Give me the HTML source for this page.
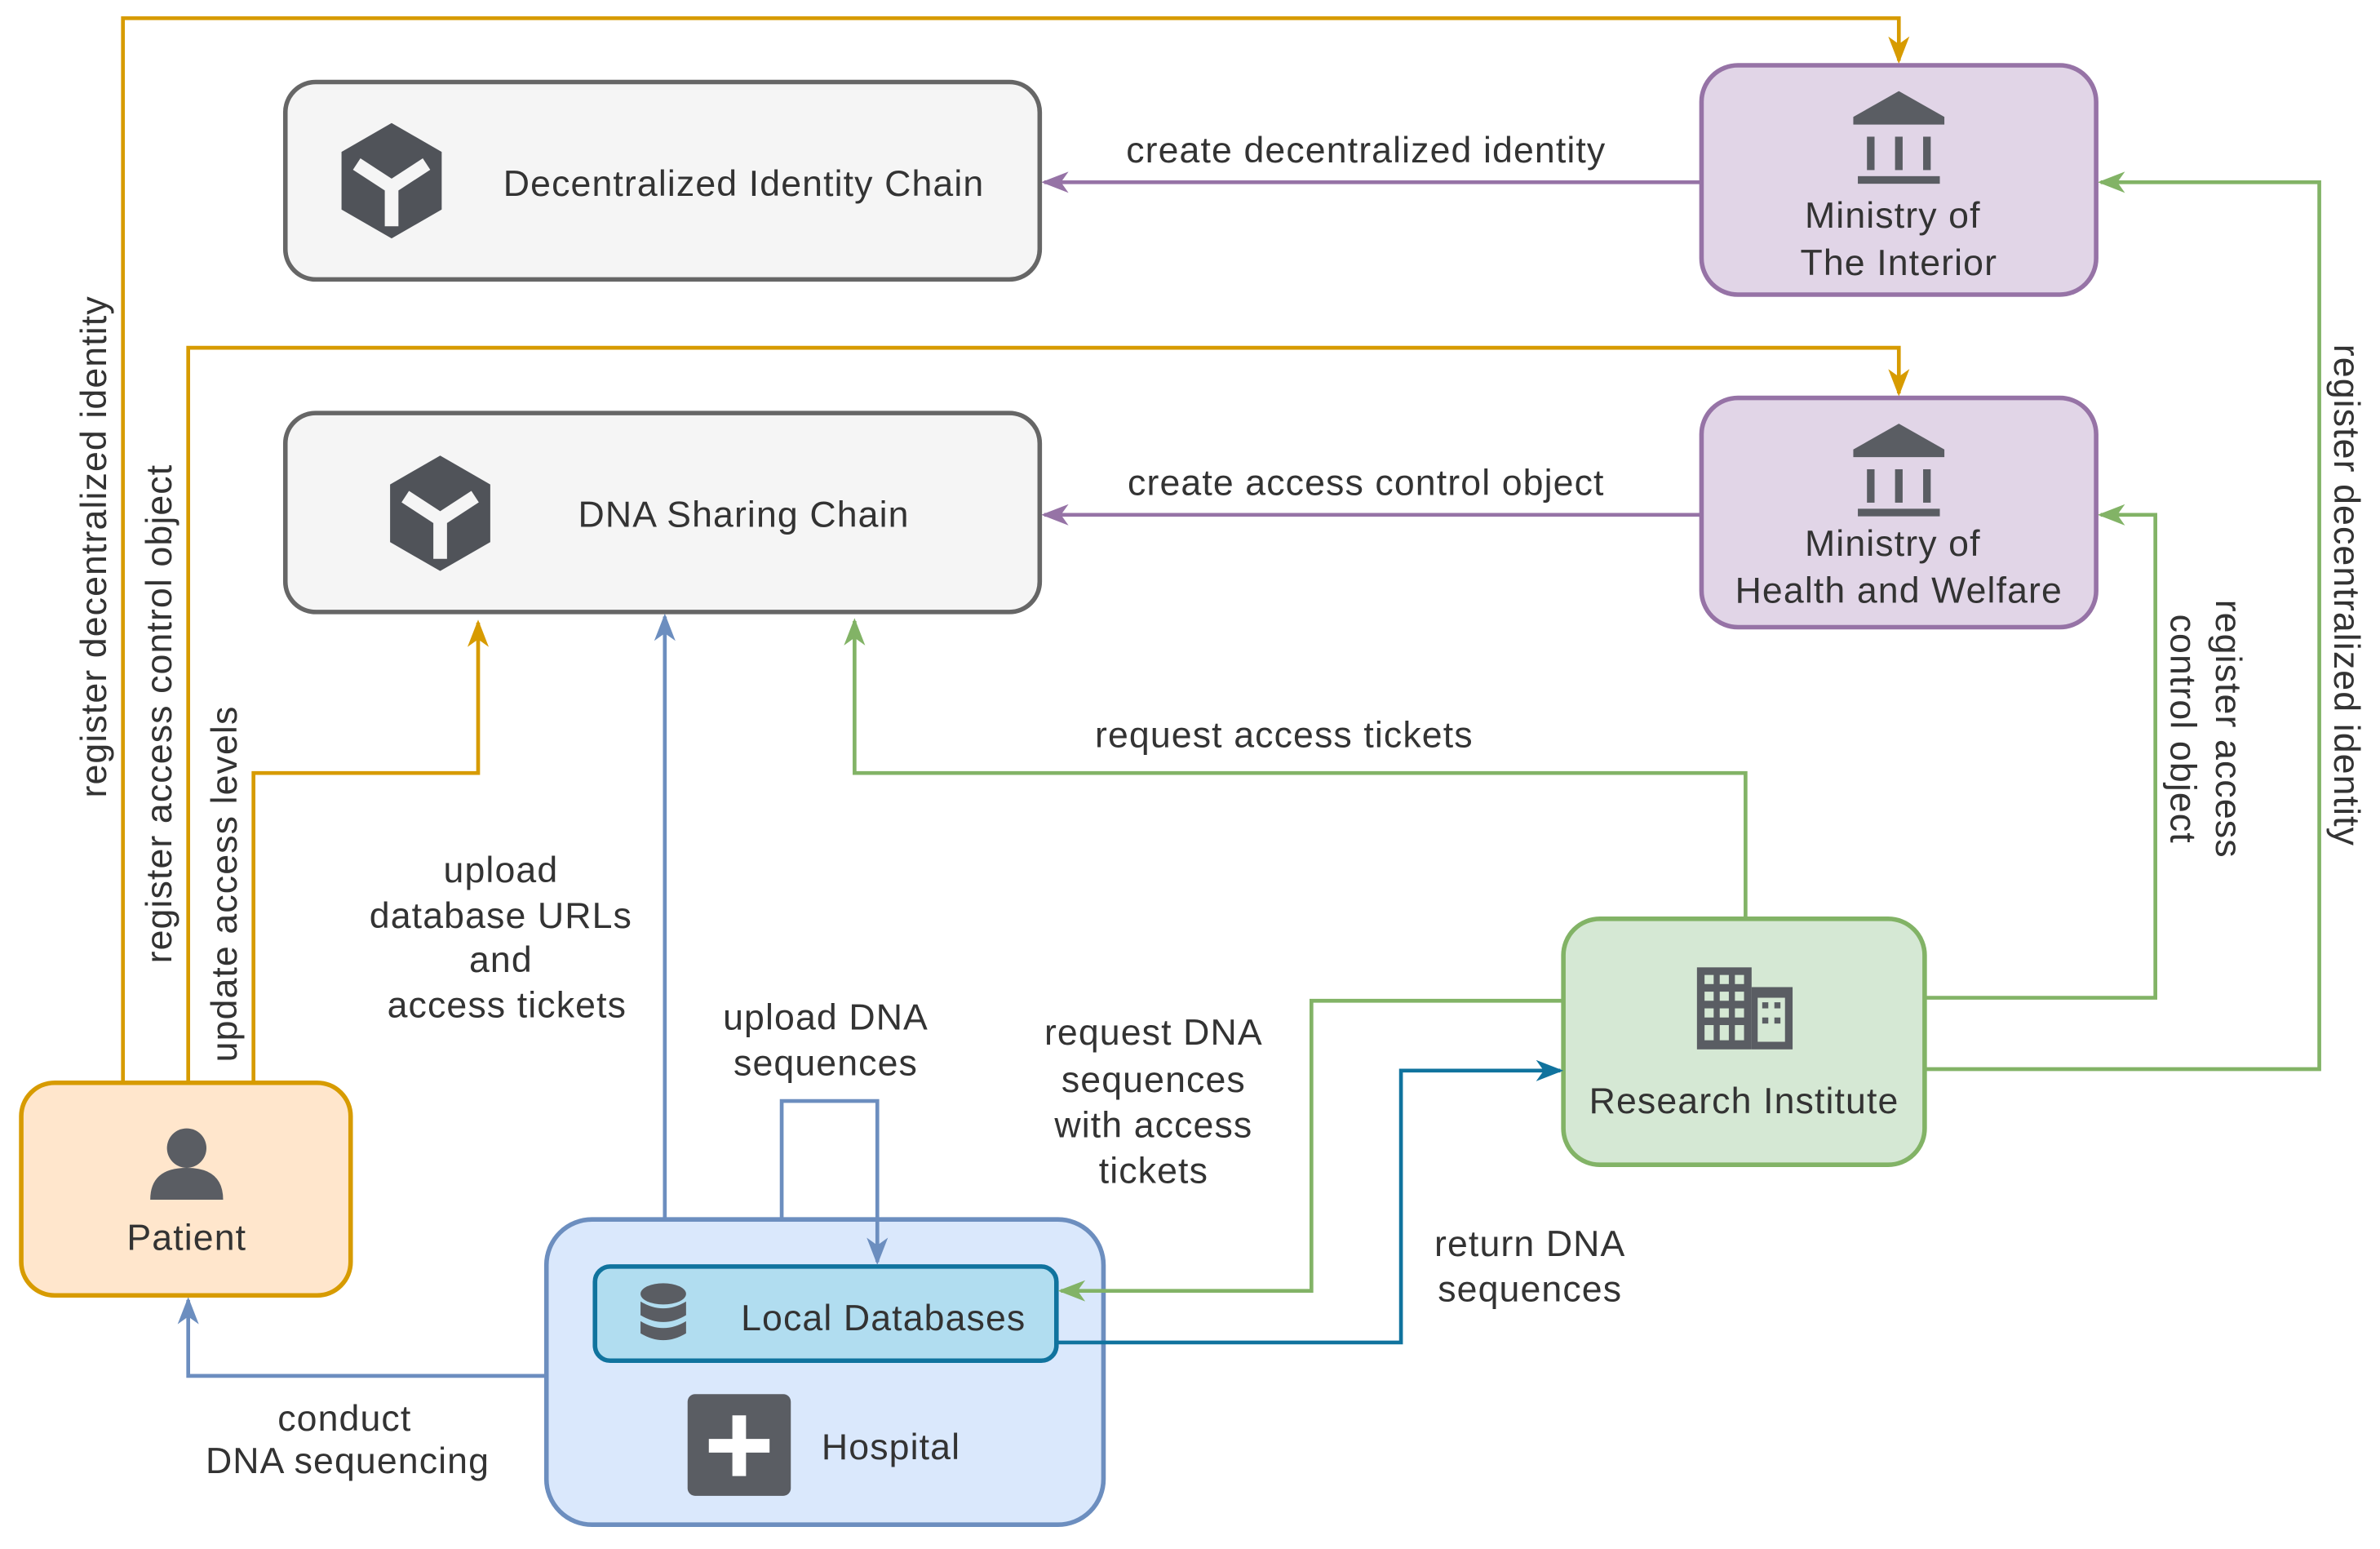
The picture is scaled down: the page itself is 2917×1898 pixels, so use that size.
<!DOCTYPE html>
<html><head><meta charset="utf-8"><style>html,body{margin:0;padding:0;background:#fff}svg{display:block}</style></head>
<body>
<svg width="2917" height="1898" viewBox="0 0 1568 1020" preserveAspectRatio="none" xmlns="http://www.w3.org/2000/svg" font-family="Liberation Sans, sans-serif" font-size="24" letter-spacing="0.6" fill="#333">
<defs>
<marker id="aP" markerWidth="18" markerHeight="14" refX="16" refY="7" orient="auto" markerUnits="userSpaceOnUse"><path d="M0,0 L18,7 L0,14 L5,7z" fill="#9673a6"/></marker>
<marker id="aG" markerWidth="18" markerHeight="14" refX="16" refY="7" orient="auto" markerUnits="userSpaceOnUse"><path d="M0,0 L18,7 L0,14 L5,7z" fill="#82b366"/></marker>
<marker id="aB" markerWidth="18" markerHeight="14" refX="16" refY="7" orient="auto" markerUnits="userSpaceOnUse"><path d="M0,0 L18,7 L0,14 L5,7z" fill="#6c8ebf"/></marker>
<marker id="aT" markerWidth="18" markerHeight="14" refX="16" refY="7" orient="auto" markerUnits="userSpaceOnUse"><path d="M0,0 L18,7 L0,14 L5,7z" fill="#10739e"/></marker>
<marker id="aO2" markerWidth="18" markerHeight="14" refX="16" refY="7" orient="auto" markerUnits="userSpaceOnUse"><path d="M0,0 L18,7 L0,14 L5,7z" fill="#d79b00"/></marker>
<g id="cube"><polygon points="0,-38 33,-19 33,19 0,38 -33,19 -33,-19" fill="#505359"/><path d="M0,4 L0,30 M0,4 L-23,-11 M0,4 L23,-11" stroke="#f5f5f5" stroke-width="9" fill="none"/></g>
<g id="bank" fill="#5a5d63"><polygon points="0,-30 30,-13 30,-8 -30,-8 -30,-13"/><rect x="-21" y="0" width="5" height="22"/><rect x="-2.5" y="0" width="5" height="22"/><rect x="16" y="0" width="5" height="22"/><rect x="-27" y="26" width="54" height="5"/></g>
</defs>

<g fill="none" stroke-width="2.5">
<path d="M81,713 V12 H1251 V40" stroke="#d79b00" marker-end="url(#aO2)"/>
<path d="M124,713 V229 H1251 V259" stroke="#d79b00" marker-end="url(#aO2)"/>
<path d="M167,713 V509 H315 V410" stroke="#d79b00" marker-end="url(#aO2)"/>
<path d="M1121,120 H688" stroke="#9673a6" marker-end="url(#aP)"/>
<path d="M1121,339 H688" stroke="#9673a6" marker-end="url(#aP)"/>
<path d="M1150,605 V509 H563 V409" stroke="#82b366" marker-end="url(#aG)"/>
<path d="M1268,657 H1420 V339 H1384" stroke="#82b366" marker-end="url(#aG)"/>
<path d="M1268,704 H1528 V120 H1384" stroke="#82b366" marker-end="url(#aG)"/>
<path d="M438,803 V406" stroke="#6c8ebf" marker-end="url(#aB)"/>
<path d="M360,906 H124 V856" stroke="#6c8ebf" marker-end="url(#aB)"/>
</g>

<rect x="188" y="54" width="497" height="130" rx="20" fill="#f5f5f5" stroke="#666" stroke-width="3"/>
<use href="#cube" x="258" y="119"/>
<text x="490" y="129" text-anchor="middle">Decentralized Identity Chain</text>

<rect x="188" y="272" width="497" height="131" rx="20" fill="#f5f5f5" stroke="#666" stroke-width="3"/>
<use href="#cube" x="290" y="338"/>
<text x="490" y="347" text-anchor="middle">DNA Sharing Chain</text>

<rect x="1121" y="43" width="260" height="151" rx="24" fill="#e1d5e7" stroke="#9673a6" stroke-width="3"/>
<use href="#bank" x="1251" y="90"/>
<text x="1247" y="150" text-anchor="middle">Ministry of</text>
<text x="1251" y="181" text-anchor="middle">The Interior</text>

<rect x="1121" y="262" width="260" height="151" rx="24" fill="#e1d5e7" stroke="#9673a6" stroke-width="3"/>
<use href="#bank" x="1251" y="309"/>
<text x="1247" y="366" text-anchor="middle">Ministry of</text>
<text x="1251" y="397" text-anchor="middle">Health and Welfare</text>

<rect x="1030" y="605" width="238" height="162" rx="24" fill="#d5e8d4" stroke="#82b366" stroke-width="3"/>
<g fill="#5a5d63"><rect x="1118" y="637" width="36" height="54"/><rect x="1154" y="650" width="27" height="41"/></g>
<g fill="#d5e8d4"><rect x="1123" y="642" width="6" height="6"/><rect x="1133" y="642" width="6" height="6"/><rect x="1143" y="642" width="6" height="6"/><rect x="1123" y="653" width="6" height="6"/><rect x="1133" y="653" width="6" height="6"/><rect x="1143" y="653" width="6" height="6"/><rect x="1123" y="664" width="6" height="6"/><rect x="1133" y="664" width="6" height="6"/><rect x="1143" y="664" width="6" height="6"/><rect x="1123" y="675" width="6" height="10"/><rect x="1133" y="675" width="6" height="10"/><rect x="1143" y="675" width="6" height="10"/><rect x="1158" y="657" width="18" height="29"/></g>
<g fill="#5a5d63"><rect x="1161" y="660" width="4" height="4"/><rect x="1169" y="660" width="4" height="4"/><rect x="1161" y="670" width="4" height="4"/><rect x="1169" y="670" width="4" height="4"/></g>
<text x="1149" y="733" text-anchor="middle">Research Institute</text>

<rect x="14" y="713" width="217" height="140" rx="22" fill="#ffe6cc" stroke="#d79b00" stroke-width="3"/>
<circle cx="123" cy="756" r="13" fill="#5a5d63"/>
<path d="M99,790 Q99,769 123,769 Q147,769 147,790 Z" fill="#5a5d63"/>
<text x="123" y="823" text-anchor="middle">Patient</text>

<rect x="360" y="803" width="367" height="201" rx="30" fill="#dae8fc" stroke="#6c8ebf" stroke-width="3"/>
<rect x="392" y="834" width="304" height="62" rx="10" fill="#b1ddf0" stroke="#10739e" stroke-width="3"/>
<g fill="#5a5d63"><ellipse cx="437" cy="852" rx="15" ry="7"/><path d="M422,857 Q437,866 452,857 V866 Q437,875 422,866Z"/><path d="M422,870 Q437,879 452,870 V878 Q437,887 422,878Z"/></g>
<text x="582" y="876" text-anchor="middle">Local Databases</text>
<rect x="453" y="918" width="68" height="67" rx="5" fill="#5a5d63"/>
<path d="M487,932 V972 M467,952 H507" stroke="#fff" stroke-width="9"/>
<text x="587" y="961" text-anchor="middle">Hospital</text>

<g fill="none" stroke-width="2.5">
<path d="M1030,659 H864 V850 H699" stroke="#82b366" marker-end="url(#aG)"/>
<path d="M696,884 H923 V705 H1028" stroke="#10739e" marker-end="url(#aT)"/>
<path d="M515,803 V725 H578 V831" stroke="#6c8ebf" marker-end="url(#aB)"/>
</g>

<text x="900" y="107" text-anchor="middle">create decentralized identity</text>
<text x="900" y="326" text-anchor="middle">create access control object</text>
<text x="846" y="492" text-anchor="middle">request access tickets</text>
<g text-anchor="middle">
<text x="330" y="581">upload</text><text x="330" y="611">database URLs</text><text x="330" y="640">and</text><text x="334" y="670">access tickets</text>
<text x="544" y="678">upload DNA</text><text x="544" y="708">sequences</text>
<text x="760" y="688">request DNA</text><text x="760" y="719">sequences</text><text x="760" y="749">with access</text><text x="760" y="779">tickets</text>
<text x="1008" y="827">return DNA</text><text x="1008" y="857">sequences</text>
<text x="227" y="942">conduct</text><text x="229" y="970">DNA sequencing</text>
</g>
<g text-anchor="middle">
<text transform="translate(70,360) rotate(-90)">register decentralized identity</text>
<text transform="translate(113,470) rotate(-90)">register access control object</text>
<text transform="translate(156,582) rotate(-90)">update access levels</text>
<text transform="translate(1460,480) rotate(90)">register access</text>
<text transform="translate(1430,480) rotate(90)">control object</text>
<text transform="translate(1538,392) rotate(90)">register decentralized identity</text>
</g>
</svg>
</body></html>
